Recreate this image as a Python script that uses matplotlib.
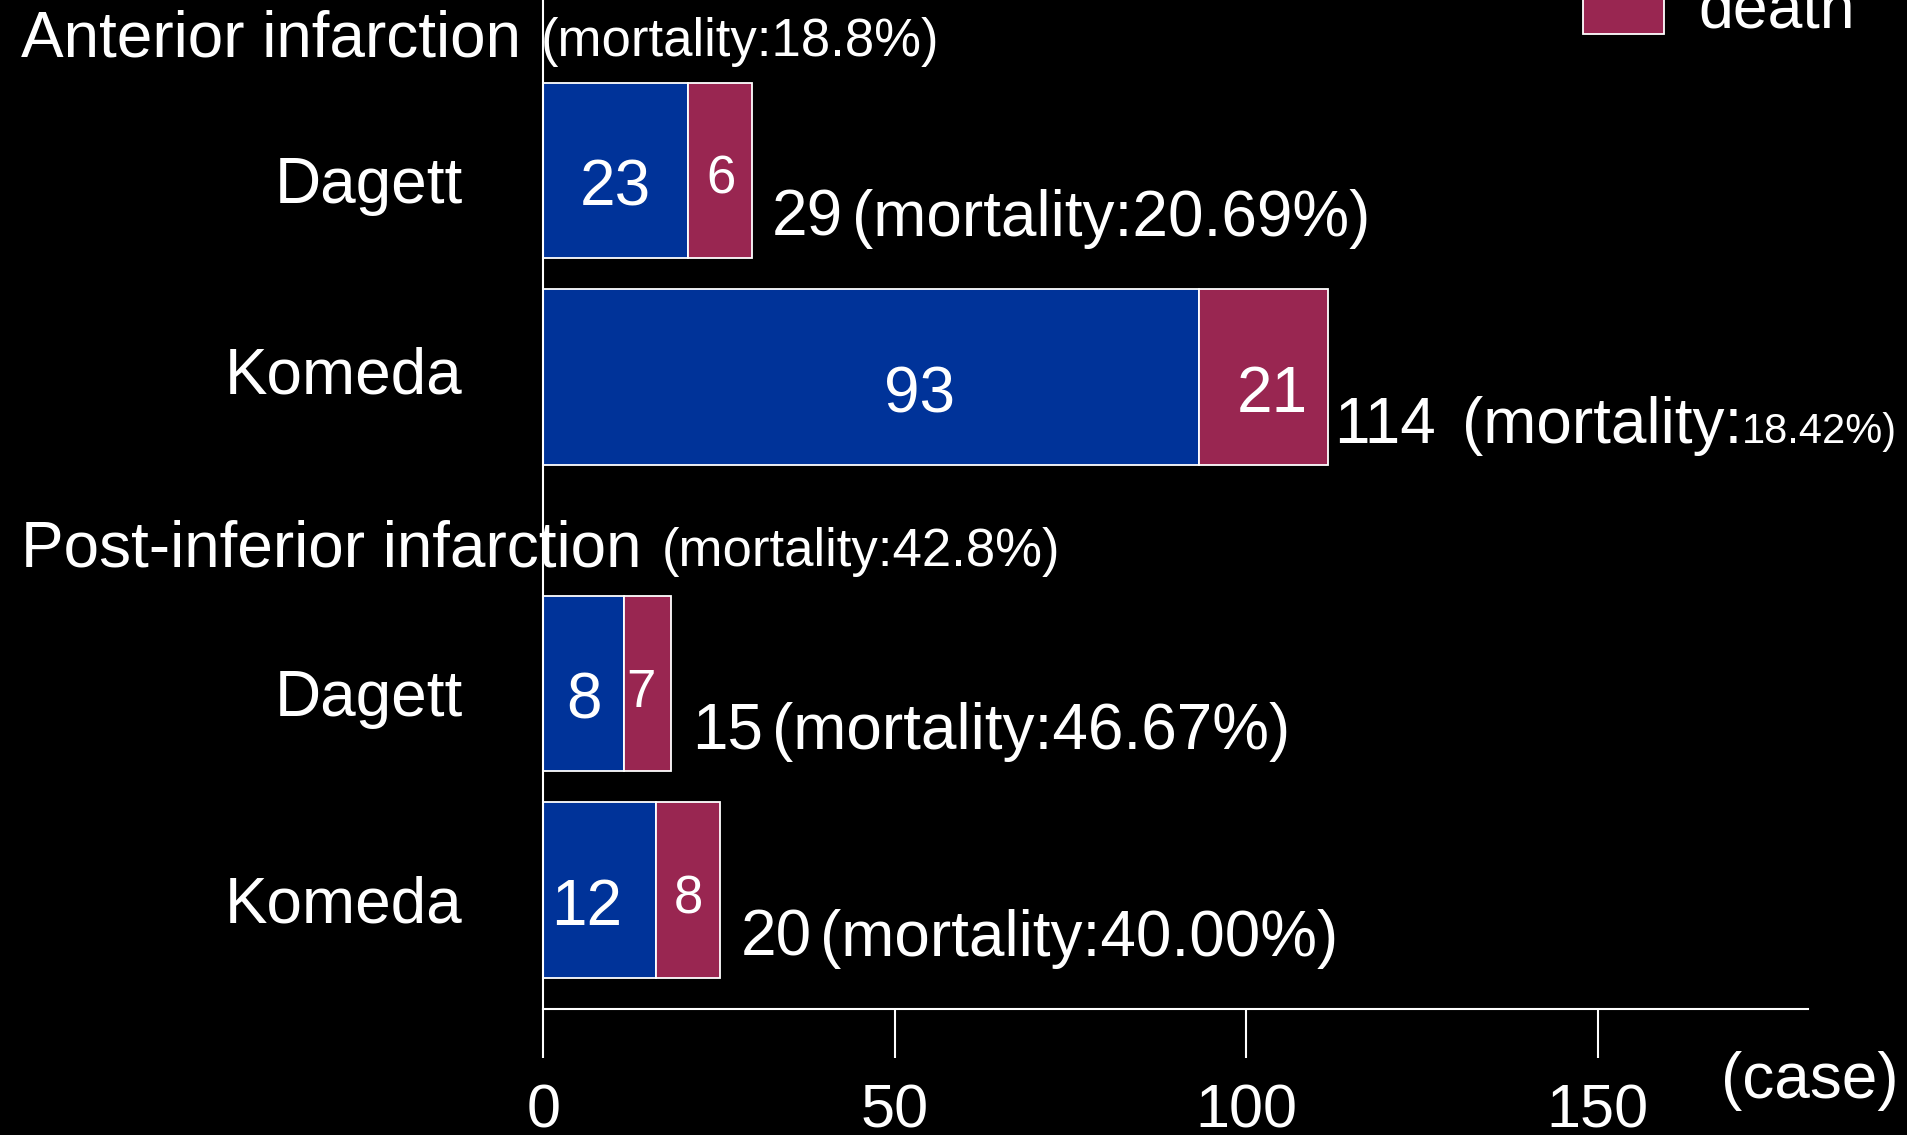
import numpy as np
import matplotlib.pyplot as plt
import matplotlib.transforms as mtransforms
from matplotlib.patches import Patch

plt.rcParams['font.family'] = ['Liberation Sans', 'DejaVu Sans']

groups = ['Anterior infarction', 'Post-inferior infarction']
group_mortality = ['(mortality:18.8%)', '(mortality:42.8%)']
studies = ['Dagett', 'Komeda', 'Dagett', 'Komeda']
survived = [23, 93, 8, 12]
died = [6, 21, 7, 8]
totals = [29, 114, 15, 20]
mortality = ['20.69%', '18.42%', '46.67%', '40.00%']
# bar lengths as drawn on the original slide (not quite to scale)
survived_drawn = [20.5, 93.3, 11.4, 16.0]
died_drawn = [9.1, 18.3, 6.8, 9.1]

blue = '#003399'
red = '#992651'
big = 46
small = 38

ypos = np.array([0, 1, 2.48, 3.48])
left_death = np.array(survived_drawn)
ends = left_death + np.array(died_drawn)

fig = plt.figure(figsize=(19.07, 11.35), dpi=100, facecolor='black')
ax = fig.add_axes([0.285, 0.1106, 0.6633, 0.8894])
ax.set_facecolor('black')

ax.barh(ypos, survived_drawn, height=0.847, color=blue, edgecolor='white', linewidth=1.3)
ax.barh(ypos, died_drawn, left=left_death, height=0.847, color=red, edgecolor='white', linewidth=1.3)

ax.set_xlim(0, 180)
ax.set_ylim(4.058, -0.823)

# numbers inside bars
shift = [0, 6.9, 0, -1.9]
dshift = [0.2, 1.2, -0.9, 0]
death_size = [small, big, small, small]
for i in range(4):
    ax.text(survived_drawn[i] / 2 + shift[i], ypos[i] + 0.17, str(survived[i]),
            color='white', fontsize=big, ha='center', va='baseline')
    ds = death_size[i]
    ax.text(left_death[i] + died_drawn[i] / 2 + dshift[i], ypos[i] + (0.17 if ds == big else 0.115),
            str(died[i]), color='white', fontsize=ds, ha='center', va='baseline')

# totals + mortality on the right
for i in range(4):
    if i == 1:
        t = ax.text(ends[i] + 0.9, ypos[i] + 0.318, str(totals[i]),
                    color='white', fontsize=big, ha='left', va='baseline')
        t2 = ax.annotate('(mortality:', xy=(1, 0), xycoords=t, xytext=(26, 0),
                         textcoords='offset pixels', color='white', fontsize=big,
                         ha='left', va='bottom')
        ax.annotate(mortality[i] + ')', xy=(1, 0), xycoords=t2, xytext=(0, 4),
                    textcoords='offset pixels', color='white', fontsize=30,
                    ha='left', va='bottom')
    else:
        t = ax.text(ends[i] + 2.9, ypos[i] + 0.318, str(totals[i]),
                    color='white', fontsize=big, ha='left', va='baseline')
        ax.annotate(f'(mortality:{mortality[i]})', xy=(1, 0), xycoords=t, xytext=(9, 0),
                    textcoords='offset pixels', color='white', fontsize=big,
                    ha='left', va='bottom')

trans = mtransforms.blended_transform_factory(ax.transAxes, ax.transData)

# study names
name_dy = [0.157, 0.082, 0.157, 0.157]
for i in range(4):
    ax.text(-0.0637, ypos[i] + name_dy[i], studies[i], transform=trans, color='white',
            fontsize=big, ha='right', va='baseline')

# group headings
head_x = [-0.002, 0.0933]
head_dy = [-0.55, -0.565]
for g in range(2):
    yg = ypos[2 * g] + head_dy[g]
    ax.text(-0.413, yg, groups[g], transform=trans, color='white',
            fontsize=big, ha='left', va='baseline')
    ax.text(head_x[g], yg, group_mortality[g], transform=trans, color='white',
            fontsize=small, ha='left', va='baseline')

for s in ['top', 'right']:
    ax.spines[s].set_visible(False)
for s in ['left', 'bottom']:
    ax.spines[s].set_color('white')
    ax.spines[s].set_linewidth(1.5)

ax.set_yticks([])
ax.set_xticks([0, 50, 100, 150])
ax.tick_params(axis='x', colors='white', length=35, width=1.5, labelsize=44, pad=18)

ax.text(0.931, -0.088, '(case)', transform=ax.transAxes, color='white',
        fontsize=big, ha='left', va='baseline')

fig.legend(handles=[Patch(facecolor=red, edgecolor='white', linewidth=1.3, label='death')],
           loc='lower left', bbox_to_anchor=(1583 / 1907, 0.964), frameon=False,
           fontsize=45, labelcolor='white', borderpad=0, borderaxespad=0,
           handlelength=1.3, handleheight=1.0, handletextpad=0.55)

fig.savefig('out.png', dpi=100, facecolor='black')
